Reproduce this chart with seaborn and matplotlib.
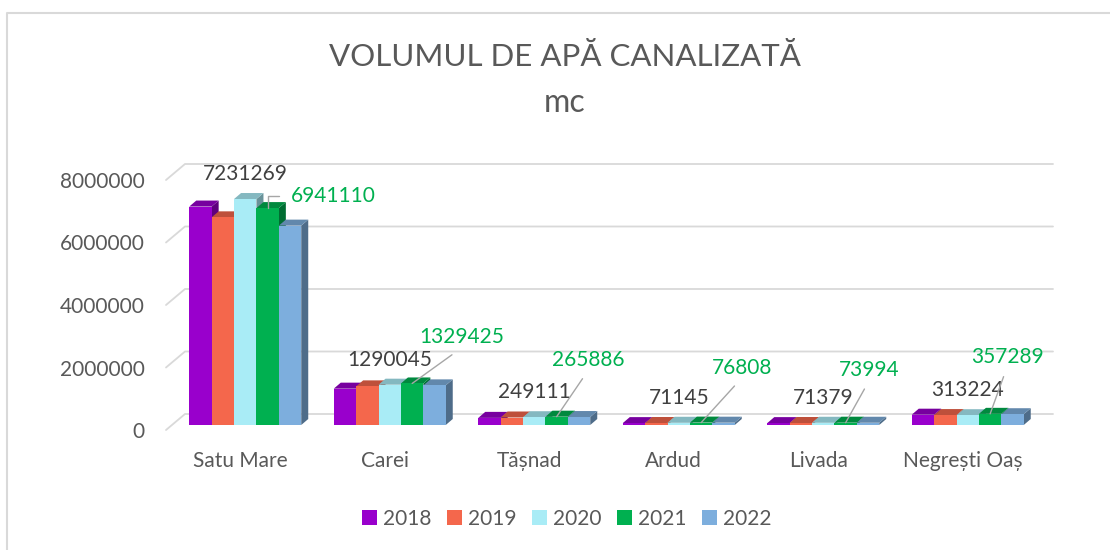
import matplotlib
matplotlib.use("Agg")
import matplotlib.pyplot as plt
from matplotlib.patches import Polygon, Patch
from matplotlib.lines import Line2D
from matplotlib.transforms import ScaledTranslation
import matplotlib.colors as mcolors
import seaborn as sns
import pandas as pd
import numpy as np

sns.set_style("white")
plt.rcParams["font.family"] = ["Lato", "DejaVu Sans"]

# data
cities = ["Satu Mare", "Carei", "Tășnad", "Ardud", "Livada", "Negrești Oaș"]
years = ["2018", "2019", "2020", "2021", "2022"]
v2018 = [6990000, 1163000, 228000, 60000, 60000, 330000]
v2019 = [6645000, 1236000, 240000, 64000, 64000, 318000]
v2020 = [7231269, 1290045, 249111, 71145, 71379, 313224]
v2021 = [6941110, 1329425, 265886, 76808, 73994, 357289]
v2022 = [6380000, 1268000, 255000, 74000, 72000, 345000]
yticks = [0, 2000000, 4000000, 6000000, 8000000]

colors = ["#9900CC", "#F4674C", "#A9ECF6", "#00B050", "#7DAEDD"]
grey_txt = "#595959"
green_txt = "#00B050"

# pixel offsets of the green (2021) labels from their bar tops
green_offsets = [(23, 12), (50, 46), (32, 57), (41, 55), (24, 53), (17, 57)]

df = pd.DataFrame({
    "city": np.tile(cities, len(years)),
    "year": np.repeat(years, len(cities)),
    "value": v2018 + v2019 + v2020 + v2021 + v2022,
})

W, H = 1110, 550
fig = plt.figure(figsize=(W / 100, H / 100), dpi=100)
ax = fig.add_axes([168 / W, 120 / H, 867 / W, 275 / H])

sns.barplot(data=df, x="city", y="value", hue="year", palette=colors,
            width=0.775, saturation=1, legend=False, ax=ax, zorder=3)
ax.set_xlim(-0.5, 5.5)
ax.set_ylim(0, 8.8e6)

# bars sit slightly behind the axis plane
bar_trans = ax.transData + ScaledTranslation(0.05, 0.05, fig.dpi_scale_trans)
dx, dy = 7, 6


def shade(c, f):
    r, g, b = mcolors.to_rgb(c)
    return (r * f, g * f, b * f)


for p in ax.patches:
    p.set_transform(bar_trans)
    p.set_edgecolor("none")
    x0, x1 = p.get_x(), p.get_x() + p.get_width()
    (X0, Yb), (X1, Yt) = bar_trans.transform([(x0, 0), (x1, p.get_height())])
    fc = p.get_facecolor()
    top = [(X0, Yt), (X1, Yt), (X1 + dx, Yt + dy), (X0 + dx, Yt + dy)]
    side = [(X1, Yb), (X1 + dx, Yb + dy), (X1 + dx, Yt + dy), (X1, Yt)]
    for pts, f in ((side, 0.62), (top, 0.78)):
        poly = Polygon([(a / W, b / H) for a, b in pts], closed=True,
                       facecolor=shade(fc, f), edgecolor="none",
                       transform=fig.transFigure, clip_on=False, zorder=2.5)
        ax.add_patch(poly)

# back-wall gridlines with perspective stubs
for v in yticks:
    Y = ax.transData.transform((0, v))[1]
    fig.add_artist(Line2D([166 / W, 185 / W, 1053 / W],
                          [Y / H, (Y + 16) / H, (Y + 16) / H],
                          color="#d9d9d9", lw=1.3, zorder=0))

ax.set_yticks(yticks)
ax.set_yticklabels([str(v) for v in yticks])
ax.tick_params(axis="y", length=0, pad=17, labelsize=15, labelcolor=grey_txt)
ax.tick_params(axis="x", length=0, pad=15, labelsize=15, labelcolor=grey_txt)
ax.set_xlabel("")
ax.set_ylabel("")
for s in ax.spines.values():
    s.set_visible(False)
ax.patch.set_alpha(0)

# data labels for 2020 (grey) and 2021 (green)
off20 = -0.775 / 2 + 0.775 / 5 * 2.5
off21 = -0.775 / 2 + 0.775 / 5 * 3.5
for i, city in enumerate(cities):
    ax.annotate(str(v2020[i]), xy=(i + off20, v2020[i]), xycoords=bar_trans,
                xytext=(0, 25), textcoords="offset pixels", ha="center",
                va="center", fontsize=15, color="#404040", zorder=5)
    ox, oy = green_offsets[i]
    if i == 0:
        ax.annotate(str(v2021[i]), xy=(i + off21, v2021[i]), xycoords=bar_trans,
                    xytext=(ox, oy), textcoords="offset pixels", ha="left",
                    va="center", fontsize=15, color=green_txt, zorder=5,
                    arrowprops=dict(arrowstyle="-", color="#a6a6a6", lw=1,
                                    connectionstyle="angle,angleA=0,angleB=90",
                                    relpos=(0, 0.5), shrinkA=6, shrinkB=0))
    else:
        ax.annotate(str(v2021[i]), xy=(i + off21, v2021[i]), xycoords=bar_trans,
                    xytext=(ox, oy), textcoords="offset pixels", ha="center",
                    va="center", fontsize=15, color=green_txt, zorder=5,
                    arrowprops=dict(arrowstyle="-", color="#a6a6a6", lw=1,
                                    relpos=(0.5, 0), shrinkA=5, shrinkB=0))

fig.text(565 / W, 1 - 57 / H, "VOLUMUL DE APĂ CANALIZATĂ", ha="center",
         va="center", fontsize=22.5, color=grey_txt)
fig.text(565 / W, 1 - 103 / H, "mc", ha="center", va="center",
         fontsize=23, color=grey_txt)

handles = [Patch(facecolor=c, edgecolor="none") for c in colors]
fig.legend(handles, years, loc="center", bbox_to_anchor=(567 / W, 1 - 519 / H),
           ncol=5, frameon=False, fontsize=15, labelcolor=grey_txt,
           handlelength=0.7, handleheight=0.7, handletextpad=0.3,
           columnspacing=0.75)

# chart frame (only left and top edges are in view)
fig.add_artist(Line2D([7 / W, 7 / W, 1], [0, 1 - 13 / H, 1 - 13 / H],
                      color="#d9d9d9", lw=1.5))

fig.savefig("out.png", dpi=100)
